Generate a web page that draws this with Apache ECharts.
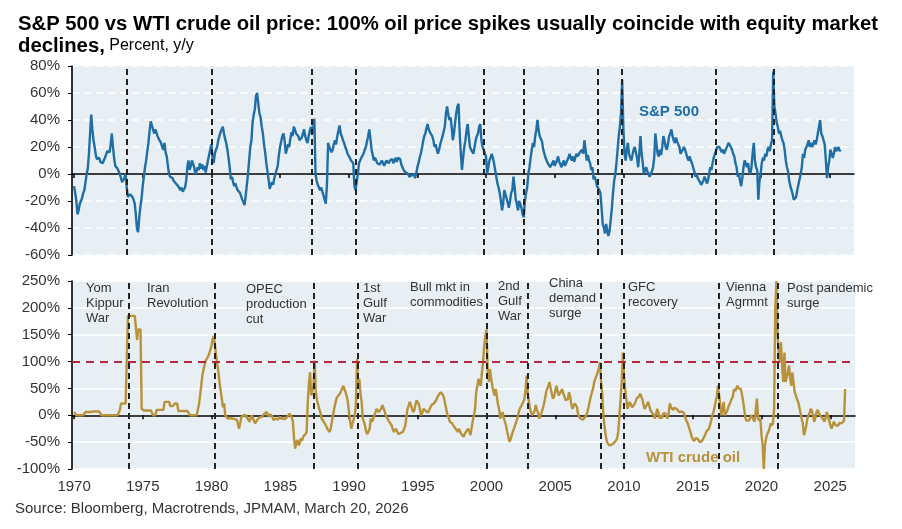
<!DOCTYPE html>
<html>
<head>
<meta charset="utf-8">
<script src="https://cdn.jsdelivr.net/npm/echarts@6/dist/echarts.min.js"></script>
<style>
  html, body { margin: 0; padding: 0; background: #fff; }
  #chart { width: 902px; height: 529px; }
</style>
</head>
<body>
<div id="chart"></div>
<script>
// monthly y/y %, first value = Jan 1970
const startYear = 1970;

const spxYoY = [
  -9, -14, -20, -30, -27, -22, -20, -18, -14, -12, -6, 0,        // 1970
  4, 15, 30, 44, 33, 25, 20, 14, 11, 10, 12, 9,                  // 1971
  9, 8, 10, 12, 13, 17, 18, 16, 22, 30, 20, 12,                  // 1972
  6, 5, 4, 3, 0, -3, -6, -7, -3, 0, -10, -17,                    // 1973
  -18, -15, -15, -17, -19, -22, -30, -41, -43, -32, -24, -18,    // 1974
  -9, -2, 5, 10, 17, 23, 32, 39, 36, 35, 30, 33,                 // 1975
  32, 28, 26, 25, 23, 20, 18, 23, 16, 13, 6, 0,                  // 1976
  -2, -1, -3, -5, -4, -7, -6, -9, -8, -12, -10, -13,             // 1977
  -13, -10, -5, 5, 10, 3, 6, 10, 9, 5, 0, 2,                     // 1978
  5, 3, 8, 4, 7, 3, 6, 1, 0, 10, 14, 18,                         // 1979
  22, 12, 8, 15, 18, 20, 25, 28, 31, 33, 35, 30,                 // 1980
  26, 23, 18, 12, 5, -4, -2, -6, -9, -7, -10, -12,               // 1981
  -12, -14, -15, -19, -20, -23, -16, -8, 0, 10, 20, 25,          // 1982
  38, 44, 48, 58, 60, 52, 45, 42, 35, 30, 22, 16,                // 1983
  8, 2, -4, -11, -8, -6, -8, -3, 0, -1, 6, 14,                   // 1984
  20, 24, 28, 30, 25, 15, 18, 22, 20, 26, 31, 28,                // 1985
  35, 33, 30, 30, 28, 25, 24, 27, 30, 33, 28, 25,                // 1986
  23, 28, 32, 35, 30, 33, 41, 0, -5, -8, -10, -12,               // 1987
  -10, -13, -16, -19, -22, -8, 23, 20, 18, 16, 18, 22,           // 1988
  25, 22, 28, 32, 36, 30, 28, 25, 23, 20, 18, 15,                // 1989
  14, 12, 10, 9, 8, -9, -12, -6, 0, 8, 10, 12,                   // 1990
  13, 15, 18, 20, 24, 28, 33, 26, 18, 14, 10, 12,                // 1991
  10, 8, 9, 7, 8, 10, 9, 6, 8, 10, 9, 8,                         // 1992
  10, 9, 11, 8, 10, 12, 9, 12, 13, 11, 7, 5,                     // 1993
  3, 2, 1, 2, 0, -2, -3, -1, -2, 0, -3, 0,                       // 1994
  5, 8, 12, 15, 19, 24, 28, 30, 34, 37, 33, 31,                  // 1995
  31, 28, 25, 20, 22, 18, 15, 18, 22, 25, 28, 27,                // 1996
  35, 45, 50, 44, 40, 42, 35, 25, 30, 38, 45, 50,                // 1997
  52, 30, 15, 3, 12, 20, 25, 32, 37, 28, 20, 18,                 // 1998
  18, 15, 20, 25, 28, 30, 35, 37, 25, 20, 18, 15,                // 1999
  13, 0, 5, 10, 12, 15, 12, 8, 3, -2, -7, -10,                   // 2000
  -14, -20, -27, -22, -12, -15, -18, -19, -25, -20, -14, -12,    // 2001
  -2, -10, -19, -22, -27, -20, -19, -25, -30, -32, -20, -14,     // 2002
  -10, 0, 5, 12, 18, 23, 20, 28, 33, 40, 32, 28,                 // 2003
  28, 24, 18, 15, 12, 10, 8, 7, 5, 5, 8, 10,                     // 2004
  6, 8, 10, 13, 9, 7, 5, 8, 10, 6, 8, 7,                         // 2005
  12, 15, 12, 10, 13, 9, 12, 15, 13, 14, 16, 15,                 // 2006
  18, 15, 25, 18, 10, 14, 10, 8, 3, 5, -4, -2,                   // 2007
  -5, -9, -10, -12, -14, -25, -37, -40, -44, -37, -42, -46,      // 2008
  -42, -34, -25, -14, -5, 0, 8, 18, 28, 35, 45, 70,              // 2009
  35, 15, 10, 18, 23, 15, 12, 10, 14, 18, 20, 16,                // 2010
  12, 5, 15, 28, 15, 8, 0, 3, 5, 2, 0, -2,                       // 2011
  -2, 2, 5, 12, 30, 22, 15, 13, 18, 14, 20, 28,                  // 2012
  25, 20, 18, 22, 28, 30, 33, 28, 25, 23, 27, 24,                // 2013
  25, 20, 15, 16, 18, 20, 18, 15, 12, 10, 13, 10,                // 2014
  8, 5, 2, -2, 0, -3, -4, -6, -8, -9, -5, -2,                    // 2015
  -4, -7, -5, 0, 5, 3, 8, 12, 15, 17, 20, 20,                    // 2016
  20, 18, 16, 18, 15, 17, 19, 21, 23, 22, 20, 18,                // 2017
  15, 13, 8, 5, -2, 0, -5, -9, -3, 5, 10, 8,                     // 2018
  5, 8, 2, 0, 5, 15, 23, 10, 5, 3, -19, -5,                      // 2019
  0, 8, 12, 10, 15, 13, 18, 20, 17, 22, 25, 76,                  // 2020
  50, 45, 38, 35, 30, 32, 28, 25, 23, 18, 10, 5,                 // 2021
  2, -5, -9, -12, -15, -19, -20, -17, -12, -8, -4, 0,            // 2022
  5, 15, 12, 18, 20, 22, 25, 20, 23, 20, 22, 25,                 // 2023
  22, 25, 30, 35, 40, 30, 28, 25, 22, 10, -3, 5,                 // 2024
  10, 18, 15, 12, 15, 20, 17, 18, 20, 17, 18                     // 2025
];

const wtiYoY = [
  6, 3, 0, 0, 0, 0, 0, 0, 0, 0, 6, 6,                            // 1970
  6, 6, 6, 6, 7, 7, 7, 7, 7, 7, 7, 7,                            // 1971
  0, 0, 0, 0, 0, 0, 0, 0, 0, 0, 0, 0,                            // 1972
  0, 0, 0, 0, 10, 22, 22, 22, 22, 22, 22, 185,                   // 1973
  185, 185, 185, 185, 185, 185, 185, 140, 160, 162, 160, 12,     // 1974
  10, 9, 9, 9, 9, 9, 9, 9, 9, 0, 0, 0,                           // 1975
  10, 10, 10, 10, 10, 10, 10, 25, 25, 25, 25, 25,                // 1976
  17, 17, 17, 17, 22, 22, 22, 8, 8, 8, 8, 8,                     // 1977
  8, 8, 8, 8, 8, 0, 0, 0, 0, 0, 0, 0,                            // 1978
  3, 20, 37, 55, 75, 85, 95, 102, 105, 110, 115, 118,            // 1979
  130, 142, 148, 130, 111, 95, 80, 60, 45, 30, 15, 22,           // 1980
  0, -2, -6, -4, -5, -3, -6, -8, -7, -9, -8, -10,                // 1981
  -25, -15, -3, -5, 0, -2, 0, -5, -8, -12, -6, 0,                // 1982
  -5, -10, -15, -12, -8, -6, -4, -5, -3, 0, 3, 6,                // 1983
  6, 3, -3, 2, 3, -2, -9, -7, -6, -4, -8, -5,                    // 1984
  -3, -2, -6, -9, -7, -5, -3, 0, 3, 2, -4, -12,                  // 1985
  -43, -62, -50, -46, -56, -52, -43, -47, -40, -37, -35, -31,    // 1986
  25, 60, 80, 37, 45, 55, 102, 43, 28, 20, 12, 5,                // 1987
  -6, -8, -12, -15, -20, -25, -28, -31, -25, -12, 0, 12,         // 1988
  15, 31, 35, 37, 40, 45, 50, 55, 48, 43, 35, 25,                // 1989
  5, -12, -25, -15, -8, 0, 20, 105, 49, 68, 40, 25,              // 1990
  -6, -12, -20, -31, -35, -37, -25, -6, -12, -8, 0, 5,           // 1991
  12, 10, 6, 8, 12, 19, 14, 8, 0, -3, -8, -12,                   // 1992
  -12, -18, -25, -31, -28, -25, -30, -35, -37, -33, -31, -31,    // 1993
  -31, -20, -5, 12, 18, 25, 22, 12, 6, 10, 20, 28,               // 1994
  31, 20, 10, 0, 5, 12, 10, 8, 6, 5, 10, 15,                     // 1995
  19, 20, 22, 25, 28, 33, 37, 40, 43, 46, 38, 31,                // 1996
  20, 10, 0, -5, -12, -12, -15, -19, -22, -25, -28, -31,         // 1997
  -25, -31, -35, -37, -40, -35, -31, -28, -25, -30, -37, -35,    // 1998
  -10, 0, 12, 43, 55, 68, 60, 55, 80, 99, 130, 148,              // 1999
  160, 86, 62, 86, 70, 55, 45, 37, 49, 35, 20, 12,               // 2000
  -6, 0, 6, -5, -12, -19, -30, -40, -49, -45, -37, -30,          // 2001
  -25, -18, -12, -5, 5, 12, 15, 20, 25, 30, 45, 74,              // 2002
  40, 25, 12, 5, 0, 3, 8, 19, 10, 5, -6, 0,                      // 2003
  5, 12, 20, 30, 43, 50, 55, 62, 50, 40, 31, 35,                 // 2004
  45, 55, 45, 37, 40, 45, 49, 40, 35, 28, 25, 30,                // 2005
  43, 35, 20, 12, 18, 22, 25, 15, 0, -3, -6, -5,                 // 2006
  -8, -5, -4, 0, 6, 15, 25, 35, 43, 50, 62, 68,                  // 2007
  74, 80, 88, 99, 62, 40, 0, -20, -37, -49, -52, -56,            // 2008
  -56, -55, -54, -52, -50, -47, -43, -30, 0, 30, 62, 117,        // 2009
  74, 49, 30, 12, 18, 25, 20, 15, 12, 20, 25, 31,                // 2010
  31, 35, 40, 43, 30, 20, 12, 15, 20, 25, 18, 10,                // 2011
  6, 3, 0, -6, -3, 12, 5, -6, 0, -6, 3, 6,                       // 2012
  4, -2, -6, 5, 22, 15, 12, 10, 14, 15, 12, 10,                  // 2013
  6, 8, 7, 9, 5, 0, -8, -12, -18, -25, -31, -40,                 // 2014
  -43, -48, -45, -42, -40, -46, -50, -52, -48, -44, -40, -38,    // 2015
  -30, -28, -25, -19, -10, 0, 5, 15, 25, 35, 55, 37,             // 2016
  20, 0, 12, 25, 0, 3, 8, 15, 20, 25, 31, 35,                    // 2017
  49, 45, 50, 55, 50, 52, 49, 38, 25, 10, -6, -10,               // 2018
  -12, -10, -5, 0, -3, -8, -12, -12, 31, -6, -10, -6,            // 2019
  -37, -56, -100, -56, -43, -35, -31, -25, -15, -19, -15, 12,    // 2020
  198, 250, 150, 117, 99, 136, 90, 62, 117, 62, 70, 80,          // 2021
  93, 70, 55, 80, 60, 43, 40, 30, 25, 15, 5, -6,                 // 2022
  -15, -37, -30, -20, -6, 0, 5, 12, 8, 0, -12, -5,               // 2023
  6, 10, 5, 0, 3, -5, -8, -12, -5, 6, -2, -10,                   // 2024
  -18, -25, -20, -12, -15, -19, -17, -19, -14, -12, -15, -12,    // 2025
  -10, 49                                                        // 2026
];

// dashed event lines (decimal years)
const eventsTop = [1973.85, 1980.05, 1987.33, 1990.5, 1999.85, 2002.78, 2008.15, 2009.85, 2016.76, 2020.93];
const eventsBottom = [1973.95, 1980.2, 1987.45, 1990.62, 2000.0, 2002.97, 2008.3, 2009.95, 2016.9, 2021.15];

const eventLabels = [
  { text: "Yom\nKippur\nWar", x: 86, y: 281 },
  { text: "Iran\nRevolution", x: 147, y: 281 },
  { text: "OPEC\nproduction\ncut", x: 246, y: 282 },
  { text: "1st\nGulf\nWar", x: 363, y: 281 },
  { text: "Bull mkt in\ncommodities", x: 410, y: 280 },
  { text: "2nd\nGulf\nWar", x: 498, y: 279 },
  { text: "China\ndemand\nsurge", x: 549, y: 276 },
  { text: "GFC\nrecovery", x: 628, y: 280 },
  { text: "Vienna\nAgrmnt", x: 726, y: 280 },
  { text: "Post pandemic\nsurge", x: 787, y: 281 },
];

const yearTicks = [1970, 1975, 1980, 1985, 1990, 1995, 2000, 2005, 2010, 2015, 2020, 2025];

const FONT = "Liberation Sans, Arial, sans-serif";
const SPX_COLOR = "#1f6ea6";
const WTI_COLOR = "#b8923a";

function toPoints(values) {
  return values.map((v, i) => [startYear + i / 12, v]);
}

function eventMarkLine(years) {
  return {
    silent: true,
    symbol: "none",
    label: { show: false },
    lineStyle: { color: "#222", width: 2, type: [6, 4] },
    data: years.map((x) => ({ xAxis: x })),
  };
}

function zeroAxis(gridIndex) {
  return {
    type: "value",
    gridIndex,
    min: 1969.85,
    max: 2026.8,
    axisLine: { onZero: true, lineStyle: { color: "#000", width: 1.6 } },
    axisTick: { show: true, customValues: yearTicks, length: 4, lineStyle: { color: "#000", width: 1.5 } },
    axisLabel: { show: false },
    splitLine: { show: false },
  };
}

const chart = echarts.init(document.getElementById("chart"));

chart.setOption({
  animation: false,
  textStyle: { fontFamily: FONT },
  title: {
    left: 13,
    top: 8,
    text: "{b|S&P 500 vs WTI crude oil price: 100% oil price spikes usually coincide with equity market}\n{b|declines,}{n| Percent, y/y}",
    textStyle: {
      rich: {
        b: { fontFamily: FONT, fontWeight: "bold", fontSize: 20.3, color: "#000", lineHeight: 22 },
        n: { fontFamily: FONT, fontWeight: "normal", fontSize: 16, color: "#000", lineHeight: 22 },
      },
    },
  },
  grid: [
    { left: 72, right: 48, top: 66, height: 189, show: true, backgroundColor: "#e8eff4", borderWidth: 0 },
    { left: 72, right: 47, top: 281, height: 188, show: true, backgroundColor: "#e8eff4", borderWidth: 0 },
  ],
  xAxis: [
    zeroAxis(0),
    zeroAxis(1),
    {
      type: "value",
      gridIndex: 1,
      position: "bottom",
      min: 1969.85,
      max: 2026.8,
      axisLine: { show: false, onZero: false },
      axisTick: { show: false },
      splitLine: { show: false },
      axisLabel: {
        customValues: yearTicks,
        fontSize: 15,
        color: "#333",
        margin: 10,
        fontFamily: FONT,
        formatter: (v) => String(v),
      },
    },
  ],
  yAxis: [
    {
      type: "value",
      gridIndex: 0,
      min: -60,
      max: 80,
      interval: 20,
      axisLine: { show: true, lineStyle: { color: "#000", width: 1.6 } },
      axisTick: { show: true, length: 4, lineStyle: { color: "#000" } },
      axisLabel: { fontSize: 15, color: "#333", margin: 12, fontFamily: FONT, formatter: (v) => `${v}%` },
      splitLine: { lineStyle: { color: "#fff", width: 1.5, type: [7, 5] } },
    },
    {
      type: "value",
      gridIndex: 1,
      min: -100,
      max: 250,
      interval: 50,
      axisLine: { show: true, lineStyle: { color: "#000", width: 1.6 } },
      axisTick: { show: true, length: 4, lineStyle: { color: "#000" } },
      axisLabel: { fontSize: 15, color: "#333", margin: 12, fontFamily: FONT, formatter: (v) => `${v}%` },
      splitLine: { lineStyle: { color: "#fff", width: 1.5 } },
    },
  ],
  series: [
    {
      name: "S&P 500",
      type: "line",
      xAxisIndex: 0,
      yAxisIndex: 0,
      data: toPoints(spxYoY),
      showSymbol: false,
      lineStyle: { color: SPX_COLOR, width: 2.4 },
      markLine: eventMarkLine(eventsTop),
    },
    {
      name: "WTI crude oil",
      type: "line",
      xAxisIndex: 1,
      yAxisIndex: 1,
      data: toPoints(wtiYoY),
      showSymbol: false,
      lineStyle: { color: WTI_COLOR, width: 2.4 },
      markLine: {
        silent: true,
        symbol: "none",
        label: { show: false },
        lineStyle: { color: "#222", width: 2, type: [6, 4] },
        data: eventsBottom
          .map((x) => ({ xAxis: x }))
          .concat([{ yAxis: 100, lineStyle: { color: "#b5263a", width: 2, type: [8, 6] } }]),
      },
    },
  ],
  graphic: eventLabels
    .map((item) => ({
      type: "text",
      x: item.x,
      y: item.y,
      z: 100,
      style: { text: item.text, font: `13px ${FONT}`, fill: "#333", lineHeight: 15 },
    }))
    .concat([
      {
        type: "text",
        x: 639,
        y: 112,
        z: 100,
        style: { text: "S&P 500", font: `bold 15px ${FONT}`, fill: SPX_COLOR, verticalAlign: "middle" },
      },
      {
        type: "text",
        x: 646,
        y: 458,
        z: 100,
        style: { text: "WTI crude oil", font: `bold 15px ${FONT}`, fill: WTI_COLOR, verticalAlign: "middle" },
      },
      {
        type: "text",
        x: 15,
        y: 509,
        z: 100,
        style: {
          text: "Source: Bloomberg, Macrotrends, JPMAM, March 20, 2026",
          font: `15px ${FONT}`,
          fill: "#333",
          verticalAlign: "middle",
        },
      },
    ]),
});

window.addEventListener("resize", () => chart.resize());
</script>
</body>
</html>
